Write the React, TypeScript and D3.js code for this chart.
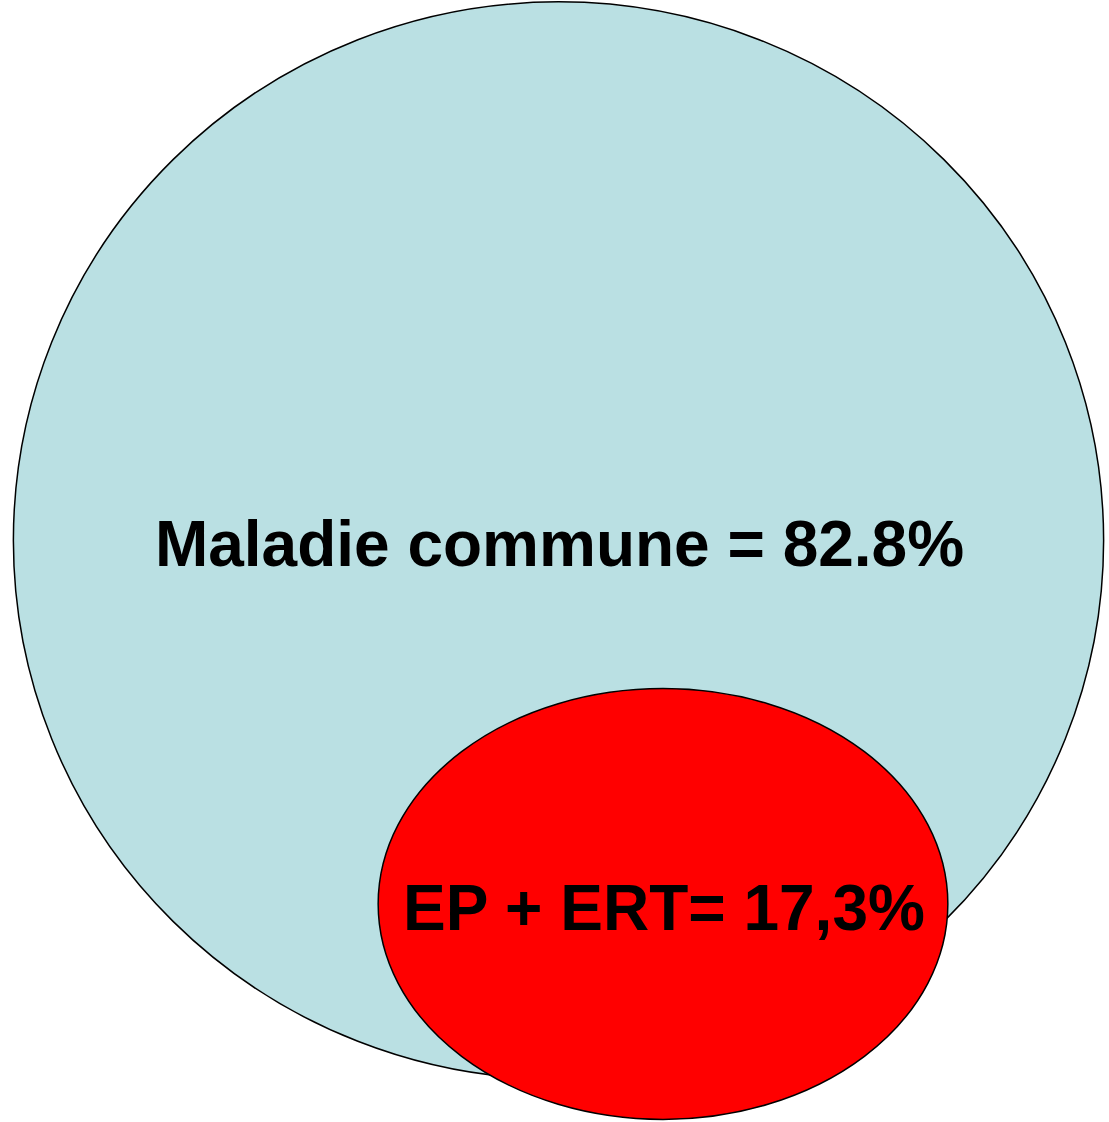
import React, { useEffect, useRef } from 'react';
import * as d3 from 'd3';

// chart values
const categories = ['Maladie commune', 'EP + ERT'];
const values = [82.8, 17.3];
const valueLabels = ['82.8%', '17,3%'];
const separators = [' = ', '= '];

// layout (not data)
const W = 1109;
const H = 1122;
const centers: [number, number][] = [[558.5, 540.5], [663, 904]];
const aspects = [1.006, 1.15];
const fills = ['#BAE0E3', '#FF0000'];
const labelY = [566, 930];

export default function App() {
  const ref = useRef<SVGSVGElement>(null);

  useEffect(() => {
    const svg = d3.select(ref.current);
    svg.selectAll('*').remove();

    // area proportional to value
    const r = d3.scaleSqrt().domain([0, 100]).range([0, 595.5]);

    const data = categories.map((c, i) => ({
      name: c,
      value: values[i],
      label: c + separators[i] + valueLabels[i],
      cx: centers[i][0],
      cy: centers[i][1],
      rx: r(values[i]) * aspects[i],
      ry: r(values[i]) / aspects[i],
      fill: fills[i],
      ly: labelY[i],
    }));

    svg.selectAll('ellipse')
      .data(data)
      .enter()
      .append('ellipse')
      .attr('cx', d => d.cx)
      .attr('cy', d => d.cy)
      .attr('rx', d => d.rx)
      .attr('ry', d => d.ry)
      .attr('fill', d => d.fill)
      .attr('stroke', '#000')
      .attr('stroke-width', 1.5);

    svg.selectAll('text.lbl')
      .data(data)
      .enter()
      .append('text')
      .attr('class', 'lbl')
      .attr('x', d => d.cx + 1)
      .attr('y', d => d.ly)
      .attr('text-anchor', 'middle')
      .style('font-family', 'Arial, "Liberation Sans", sans-serif')
      .style('font-weight', 'bold')
      .style('font-size', '64px')
      .attr('fill', '#000')
      .text(d => d.label);
  }, []);

  return (
    <svg
      ref={ref}
      width={W}
      height={H}
      style={{ position: 'absolute', left: 0, top: 0, background: 'white' }}
    />
  );
}
